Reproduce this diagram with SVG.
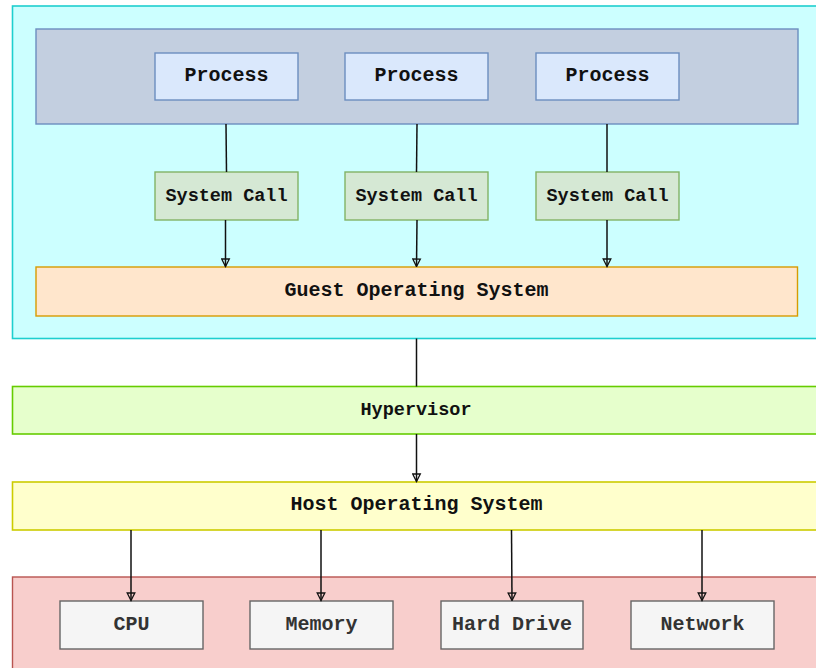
<svg xmlns="http://www.w3.org/2000/svg" width="816" height="668" viewBox="0 0 816 668">
  <defs>
    <marker id="open-arrow" viewBox="0 0 10 10" refX="9" refY="5" markerWidth="10" markerHeight="10" markerUnits="userSpaceOnUse" orient="auto">
      <path d="M1.5,1.2 L9,5 L1.5,8.8 Z" fill="none" stroke="#111" stroke-width="1.3" stroke-linejoin="miter"/>
    </marker>
    <style>
      text { font-family: "Liberation Mono", "Courier New", monospace; font-weight: bold; text-anchor: middle; fill: #111; }
      .big { font-size: 20px; }
      .mid { font-size: 18.5px; }
      .vm { fill: #CCFFFF; stroke: #1ECFCF; stroke-width: 1.6; }
      .apps { fill: #C3CFE0; stroke: #6C8EBF; stroke-width: 1.4; }
      .proc { fill: #DAE8FC; stroke: #6C8EBF; stroke-width: 1.4; }
      .call { fill: #D5E8D4; stroke: #82B366; stroke-width: 1.4; }
      .guest { fill: #FFE6CC; stroke: #D79B00; stroke-width: 1.4; }
      .hyper { fill: #E6FFCC; stroke: #66CC00; stroke-width: 1.6; }
      .host { fill: #FFFFCC; stroke: #CCCC00; stroke-width: 1.6; }
      .hw { fill: #F8CECC; stroke: #B85450; stroke-width: 1.4; }
      .res { fill: #F5F5F5; stroke: #666666; stroke-width: 1.4; }
      .res-text { fill: #333333; }
      .link { fill: none; stroke: #111; stroke-width: 1.5; }
      .arrow { marker-end: url(#open-arrow); }
    </style>
  </defs>

  <!-- virtual machine container -->
  <g id="virtual-machine">
    <rect class="vm" x="12.5" y="6" width="830" height="332.5"/>
  </g>

  <!-- user space with processes -->
  <g id="user-space">
    <rect class="apps" x="36" y="29" width="762" height="95"/>
  </g>
  <g id="process-1">
    <rect class="proc" x="155" y="53" width="143" height="47"/>
    <text class="big" x="226.5" y="81">Process</text>
  </g>
  <g id="process-2">
    <rect class="proc" x="345" y="53" width="143" height="47"/>
    <text class="big" x="416.5" y="81">Process</text>
  </g>
  <g id="process-3">
    <rect class="proc" x="536" y="53" width="143" height="47"/>
    <text class="big" x="607.5" y="81">Process</text>
  </g>

  <!-- system calls -->
  <g id="syscall-1">
    <rect class="call" x="155" y="172" width="143" height="48"/>
    <text class="mid" x="226.5" y="201">System Call</text>
  </g>
  <g id="syscall-2">
    <rect class="call" x="345" y="172" width="143" height="48"/>
    <text class="mid" x="416.5" y="201">System Call</text>
  </g>
  <g id="syscall-3">
    <rect class="call" x="536" y="172" width="143" height="48"/>
    <text class="mid" x="607.5" y="201">System Call</text>
  </g>

  <!-- guest kernel -->
  <g id="guest-os">
    <rect class="guest" x="36" y="267" width="761.5" height="49"/>
    <text class="big" x="416.5" y="296">Guest Operating System</text>
  </g>

  <!-- hypervisor and host -->
  <g id="hypervisor">
    <rect class="hyper" x="12.5" y="386.5" width="830" height="47.5"/>
    <text class="mid" x="416" y="415">Hypervisor</text>
  </g>
  <g id="host-os">
    <rect class="host" x="12.5" y="482" width="830" height="48"/>
    <text class="big" x="416.5" y="510">Host Operating System</text>
  </g>

  <!-- physical hardware -->
  <g id="hardware">
    <rect class="hw" x="12.5" y="577" width="830" height="110"/>
  </g>
  <g id="cpu">
    <rect class="res" x="60" y="601" width="143" height="48"/>
    <text class="big res-text" x="131.5" y="630">CPU</text>
  </g>
  <g id="memory">
    <rect class="res" x="250" y="601" width="143" height="48"/>
    <text class="big res-text" x="321.5" y="630">Memory</text>
  </g>
  <g id="hard-drive">
    <rect class="res" x="441" y="601" width="142" height="48"/>
    <text class="big res-text" x="512" y="630">Hard Drive</text>
  </g>
  <g id="network">
    <rect class="res" x="631" y="601" width="143" height="48"/>
    <text class="big res-text" x="702.5" y="630">Network</text>
  </g>

  <!-- connectors -->
  <g id="connectors">
    <line class="link" x1="226" y1="124" x2="226.5" y2="172"/>
    <line class="link" x1="417" y1="124" x2="416.5" y2="172"/>
    <line class="link" x1="607" y1="124" x2="607" y2="172"/>

    <line class="link arrow" x1="225.5" y1="220" x2="225.5" y2="266.5"/>
    <line class="link arrow" x1="417" y1="220" x2="416.5" y2="266.5"/>
    <line class="link arrow" x1="607" y1="220" x2="607" y2="266.5"/>

    <line class="link" x1="416.5" y1="338.5" x2="416.5" y2="386.5"/>
    <line class="link arrow" x1="416.5" y1="434" x2="416.5" y2="481.5"/>

    <line class="link arrow" x1="131" y1="530" x2="131" y2="600.5"/>
    <line class="link arrow" x1="321" y1="530" x2="321" y2="600.5"/>
    <line class="link arrow" x1="511.5" y1="530" x2="512" y2="600.5"/>
    <line class="link arrow" x1="702" y1="530" x2="702" y2="600.5"/>
  </g>
</svg>
